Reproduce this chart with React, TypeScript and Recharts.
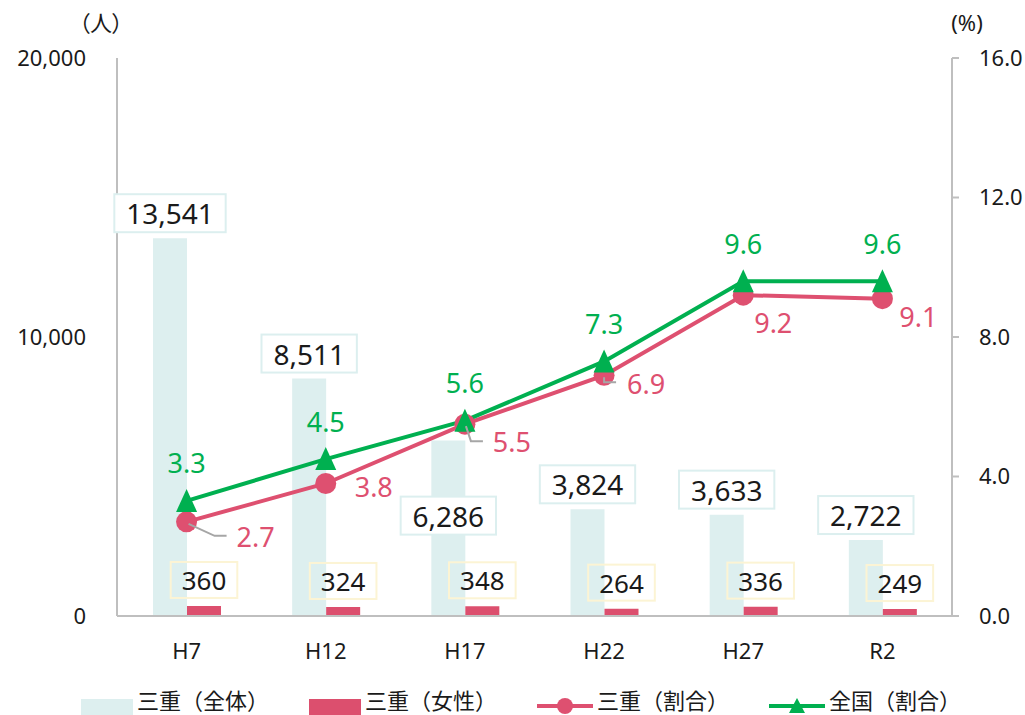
import { ComposedChart, Bar, Line, XAxis, YAxis, LabelList, Legend } from 'recharts';

const years = ['H7', 'H12', 'H17', 'H22', 'H27', 'R2'];
const totalCount = [13541, 8511, 6286, 3824, 3633, 2722];
const femaleCount = [360, 324, 348, 264, 336, 249];
const mieRate = [2.7, 3.8, 5.5, 6.9, 9.2, 9.1];
const nationalRate = [3.3, 4.5, 5.6, 7.3, 9.6, 9.6];

const countTicks = [0, 10000, 20000];
const rateTicks = [0, 4, 8, 12, 16];

const data = years.map((year, i) => ({
  year,
  total: totalCount[i],
  female: femaleCount[i],
  mie: mieRate[i],
  national: nationalRate[i],
}));

const FONT = '"Noto Sans", "Noto Sans CJK JP", sans-serif';
const LIGHT = '#ddefef';
const RED = '#dc4f6e';
const PINK = '#de5070';
const GREEN = '#00b050';
const AXIS = '#bfbfbf';
const TEXT = '#1a1a1a';

// label placement (style only)
const totalBelowIndex = 2;
const mieLabelOffset = [[69, 15], [48, 3], [47, 17], [42, 8], [30, 27], [36, 18]];
const mieLeader: (number[][] | null)[] = [
  [[2, 2], [28, 14], [40, 14]],
  null,
  [[1, 2], [6, 17], [18, 17]],
  [[0, 2], [0, 7], [12, 7]],
  null,
  null,
];

const textWidth = (s: string, size: number) =>
  s.split('').reduce((w, c) => w + (c === ',' || c === '.' ? 0.26 : 0.572) * size, 0);

const TotalLabel = (props: any) => {
  const { x, y, width, value, index } = props;
  const s = Number(value).toLocaleString('en-US');
  const cx = x + width / 2;
  const cy = index === totalBelowIndex ? y + 75 : y - 25;
  const w = textWidth(s, 28) + 24;
  return (
    <g>
      <rect x={cx - w / 2} y={cy - 19} width={w} height={38} fill="#fff" stroke="#dcefef" strokeWidth={2} />
      <text x={cx} y={cy} textAnchor="middle" dominantBaseline="central" fontSize={28} fontFamily={FONT} fill={TEXT}>
        {s}
      </text>
    </g>
  );
};

const FemaleLabel = (props: any) => {
  const { x, y, width, value } = props;
  const s = String(value);
  const cx = x + width / 2;
  const cy = y - 26;
  const w = textWidth(s, 26) + 22;
  return (
    <g>
      <rect x={cx - w / 2} y={cy - 18} width={w} height={36} fill="none" stroke="#fcf4d4" strokeWidth={2} />
      <text x={cx} y={cy} textAnchor="middle" dominantBaseline="central" fontSize={26} fontFamily={FONT} fill={TEXT}>
        {s}
      </text>
    </g>
  );
};

const MieLabel = (props: any) => {
  const { x, y, value, index } = props;
  const [dx, dy] = mieLabelOffset[index];
  const leader = mieLeader[index];
  return (
    <g>
      {leader && (
        <polyline
          points={leader.map(([a, b]) => `${x + a},${y + b}`).join(' ')}
          fill="none"
          stroke="#a6a6a6"
          strokeWidth={2}
        />
      )}
      <text x={x + dx} y={y + dy} textAnchor="middle" dominantBaseline="central" fontSize={27} fontFamily={FONT} fill={PINK}>
        {Number(value).toFixed(1)}
      </text>
    </g>
  );
};

const NationalLabel = (props: any) => {
  const { x, y, value } = props;
  return (
    <text x={x} y={y - 38} textAnchor="middle" dominantBaseline="central" fontSize={27} fontFamily={FONT} fill={GREEN}>
      {Number(value).toFixed(1)}
    </text>
  );
};

const Triangle = (props: any) => {
  const { cx, cy, index } = props;
  return (
    <polygon
      key={`tri-${index}`}
      points={`${cx},${cy - 12} ${cx + 10.5},${cy + 11} ${cx - 10.5},${cy + 11}`}
      fill={GREEN}
    />
  );
};

const AxisTitle = ({ viewBox, text, dx }: any) => (
  <text
    x={viewBox.x + dx}
    y={22}
    textAnchor="middle"
    dominantBaseline="central"
    fontSize={22}
    fontFamily={FONT}
    fill={TEXT}
    style={{ fontFeatureSettings: '"palt"' }}
  >
    {text}
  </text>
);

const legendItems = [
  { name: '三重（全体）', type: 'rect', color: LIGHT },
  { name: '三重（女性）', type: 'rect', color: RED },
  { name: '三重（割合）', type: 'circle', color: PINK },
  { name: '全国（割合）', type: 'triangle', color: GREEN },
];

const LegendIcon = ({ type, color }: { type: string; color: string }) => {
  if (type === 'rect') {
    return (
      <svg width={52} height={16} style={{ display: 'block', marginTop: 10 }}>
        <rect x={0} y={0} width={52} height={16} fill={color} />
      </svg>
    );
  }
  return (
    <svg width={56} height={20} style={{ display: 'block', marginTop: 7 }}>
      <line x1={0} y1={10} x2={56} y2={10} stroke={color} strokeWidth={4} />
      {type === 'circle' ? (
        <circle cx={28} cy={10} r={8} fill={color} />
      ) : (
        <polygon points="28,2 36,17 20,17" fill={color} />
      )}
    </svg>
  );
};

const renderLegend = () => (
  <div
    style={{
      height: 40,
      boxSizing: 'border-box',
      paddingTop: 14,
      paddingLeft: 81,
      display: 'flex',
      alignItems: 'flex-start',
      gap: 40,
      fontFamily: FONT,
      fontSize: 22,
      color: TEXT,
    }}
  >
    {legendItems.map(item => (
      <div key={item.name} style={{ display: 'flex', alignItems: 'flex-start', gap: 4 }}>
        <LegendIcon type={item.type} color={item.color} />
        <span style={{ lineHeight: '22px', display: 'block' }}>{item.name}</span>
      </div>
    ))}
  </div>
);

export default function App() {
  return (
    <div style={{ position: 'absolute', left: 0, top: 0, width: 1025, height: 715, background: '#fff', overflow: 'hidden' }}>
      <ComposedChart width={1025} height={715} data={data} margin={{ top: 58, right: 0, bottom: 0, left: 0 }} barGap={0}>
        <XAxis
          dataKey="year"
          axisLine={{ stroke: AXIS, strokeWidth: 2 }}
          tickLine={false}
          tickSize={6}
          tickMargin={21}
          height={59}
          tick={{ fill: TEXT, fontSize: 22, fontFamily: FONT }}
        />
        <YAxis
          yAxisId="left"
          domain={[0, 20000]}
          ticks={countTicks}
          width={117}
          axisLine={{ stroke: AXIS, strokeWidth: 2 }}
          tickLine={false}
          tickSize={6}
          tickMargin={25}
          tickFormatter={(v: number) => v.toLocaleString('en-US')}
          tick={{ fill: TEXT, fontSize: 22, fontFamily: FONT }}
          label={(p: any) => <AxisTitle {...p} text="（人）" dx={101} />}
        />
        <YAxis
          yAxisId="right"
          orientation="right"
          domain={[0, 16]}
          ticks={rateTicks}
          width={73}
          axisLine={{ stroke: AXIS, strokeWidth: 2 }}
          tickLine={{ stroke: AXIS, strokeWidth: 2 }}
          tickSize={7}
          tickMargin={20}
          tickFormatter={(v: number) => v.toFixed(1)}
          tick={{ fill: TEXT, fontSize: 22, fontFamily: FONT }}
          label={(p: any) => <AxisTitle {...p} text="(%)" dx={15} />}
        />
        <Legend verticalAlign="bottom" content={renderLegend} wrapperStyle={{ left: 0, width: 1025, height: 40 }} />
        <Bar yAxisId="left" dataKey="total" fill={LIGHT} barSize={34} isAnimationActive={false}>
          <LabelList dataKey="total" content={TotalLabel} />
        </Bar>
        <Bar yAxisId="left" dataKey="female" fill={RED} barSize={34} isAnimationActive={false}>
          <LabelList dataKey="female" content={FemaleLabel} />
        </Bar>
        <Line
          yAxisId="right"
          dataKey="mie"
          stroke={PINK}
          strokeWidth={4}
          dot={{ r: 10.5, fill: PINK, stroke: PINK, strokeWidth: 0 }}
          activeDot={false}
          isAnimationActive={false}
        >
          <LabelList dataKey="mie" content={MieLabel} />
        </Line>
        <Line
          yAxisId="right"
          dataKey="national"
          stroke={GREEN}
          strokeWidth={4}
          dot={Triangle}
          activeDot={false}
          isAnimationActive={false}
        >
          <LabelList dataKey="national" content={NationalLabel} />
        </Line>
      </ComposedChart>
    </div>
  );
}
